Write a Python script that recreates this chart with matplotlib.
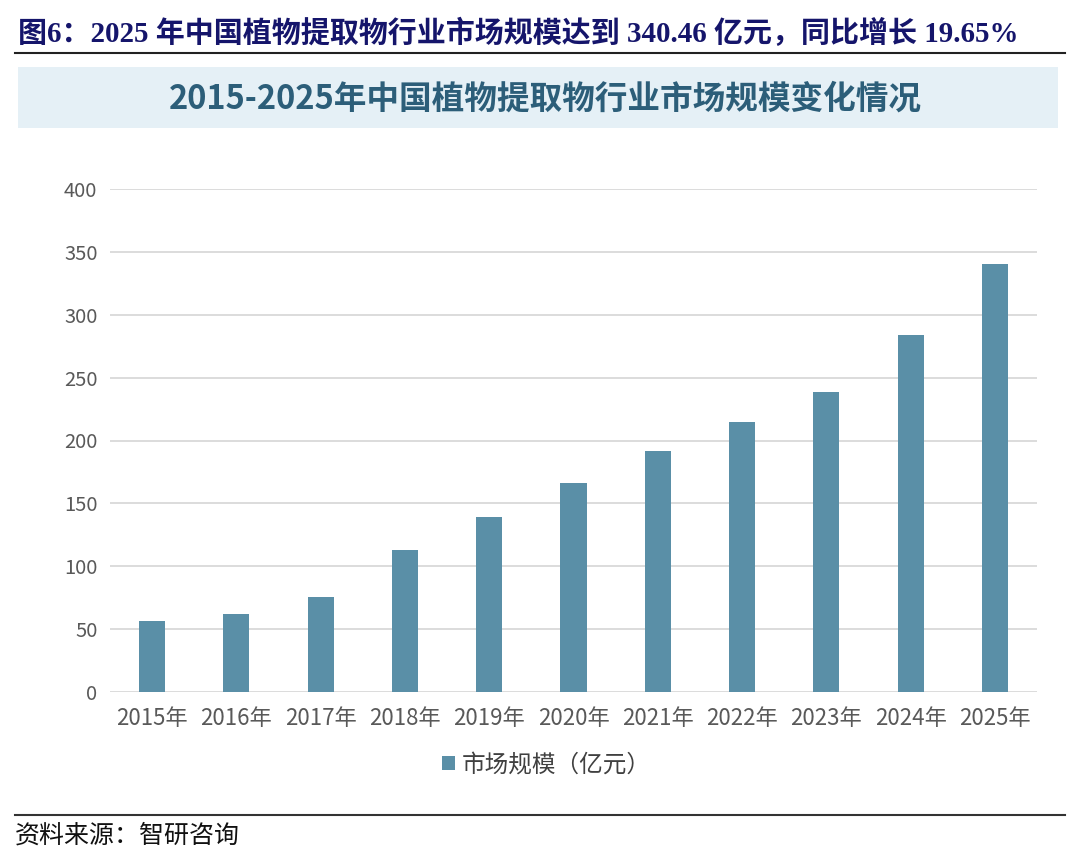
import matplotlib.pyplot as plt
from matplotlib.patches import Rectangle
from matplotlib.lines import Line2D

plt.rcParams['font.family'] = ['Noto Sans CJK SC', 'DejaVu Sans']

# data
years = ['2015年', '2016年', '2017年', '2018年', '2019年', '2020年',
         '2021年', '2022年', '2023年', '2024年', '2025年']
market_size = [56.8, 62.0, 75.3, 112.9, 139.4, 166.4, 191.6, 214.5, 238.6, 283.9, 340.46]
y_ticks = [0, 50, 100, 150, 200, 250, 300, 350, 400]

header = '图6：2025 年中国植物提取物行业市场规模达到 340.46 亿元，同比增长 19.65%'
chart_title = '2015-2025年中国植物提取物行业市场规模变化情况'
legend_label = '市场规模（亿元）'
source = '资料来源：智研咨询'

bar_color = '#5a8fa7'

fig = plt.figure(figsize=(10.8, 8.65), dpi=100)

# header text and rules
fig.text(18 / 1080, 1 - 33 / 865, header, fontsize=20.9, fontweight='bold',
         color='#15156b', va='center', ha='left',
         family=['Liberation Serif', 'Noto Sans CJK SC'])
fig.add_artist(Line2D([15 / 1080, 1065 / 1080], [1 - 53 / 865] * 2,
                      color='#222222', lw=1.5, transform=fig.transFigure))

# title band
fig.add_artist(Rectangle((18 / 1080, 1 - 128 / 865), 1040 / 1080, 61 / 865,
                         facecolor='#e5f0f6', edgecolor='none',
                         transform=fig.transFigure))
fig.text(545 / 1080, 1 - 99 / 865, chart_title, fontsize=23.5, fontweight='bold',
         color='#2c5e79', ha='center', va='center')

# bars
ax = fig.add_axes([110 / 1080, 1 - 692 / 865, 927 / 1080, 503 / 865])
ax.bar(years, market_size, width=0.31, color=bar_color, zorder=3,
       label=legend_label)
ax.set_ylim(0, 400)
ax.set_xlim(-0.5, len(years) - 0.5)
ax.set_yticks(y_ticks)
ax.yaxis.grid(True, color='#d9d9d9', lw=1.3, zorder=0)
for s in ax.spines.values():
    s.set_visible(False)
ax.tick_params(axis='both', length=0, colors='#595959')
ax.tick_params(axis='y', labelsize=14.5, pad=9)
ax.tick_params(axis='x', labelsize=16, pad=11)

ax.legend(loc='center', bbox_to_anchor=(0.471, -0.145), frameon=False,
          fontsize=17, handlelength=0.55, handleheight=0.55, handletextpad=0.3,
          labelcolor='#404040')

# source footer
fig.add_artist(Line2D([15 / 1080, 1065 / 1080], [1 - 815 / 865] * 2,
                      color='#333333', lw=1.5, transform=fig.transFigure))
fig.text(15 / 1080, 1 - 836 / 865, source, fontsize=18, color='#111111',
         ha='left', va='center', fontweight='light')

fig.savefig('out.png', dpi=100)
